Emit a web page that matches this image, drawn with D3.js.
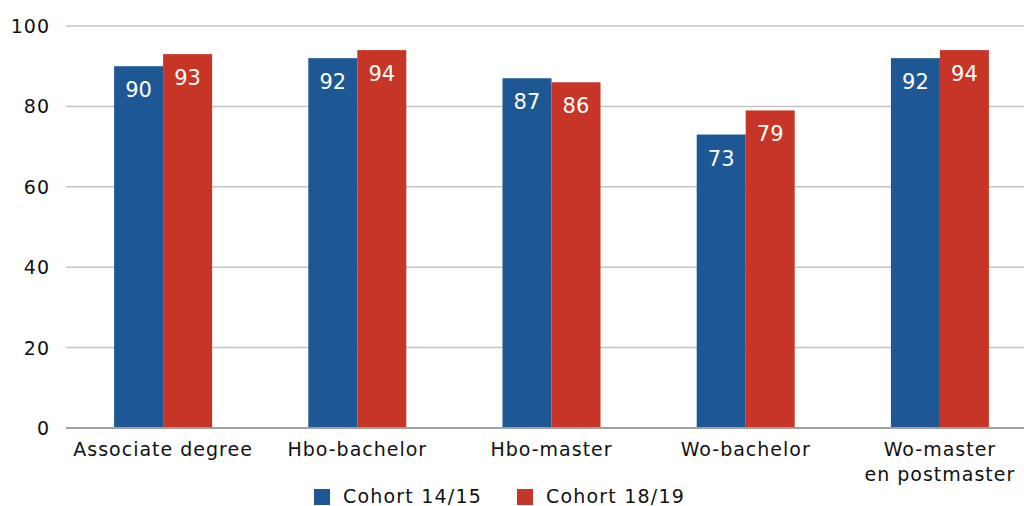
<!DOCTYPE html>
<html>
<head>
<meta charset="utf-8">
<style>
body { margin: 0; background: #fff; }
svg { font-family: "DejaVu Sans", Verdana, sans-serif; }
.axis text { font-size: 19px; fill: #111; letter-spacing: 1px; }
.grid line { stroke: #c4c4c4; stroke-width: 1.5; }
.label { fill: #fff; font-size: 21px; text-anchor: middle; }
.legend text { font-size: 19px; fill: #111; letter-spacing: 1.2px; }
</style>
</head>
<body>
<svg width="1024" height="506"></svg>
<script src="https://cdn.jsdelivr.net/npm/d3@7"></script>
<script>
// data
var categories = ["Associate degree", "Hbo-bachelor", "Hbo-master", "Wo-bachelor", "Wo-master\nen postmaster"];
var cohort1415 = [90, 92, 87, 73, 92];
var cohort1819 = [93, 94, 86, 79, 94];
var seriesNames = ["Cohort 14/15", "Cohort 18/19"];
var yTicks = [0, 20, 40, 60, 80, 100];

var colors = ["#1d5794", "#c73526"];

var svg = d3.select("svg");

var x = d3.scaleBand()
  .domain(categories)
  .range([66, 1037]);

var y = d3.scaleLinear()
  .domain([0, 100])
  .range([428, 26]);

// gridlines
svg.append("g")
  .attr("class", "grid")
  .selectAll("line")
  .data(yTicks.filter(function(d) { return d > 0; }))
  .enter().append("line")
  .attr("x1", 66)
  .attr("x2", 1024)
  .attr("y1", function(d) { return y(d); })
  .attr("y2", function(d) { return y(d); });

// y labels
svg.append("g")
  .attr("class", "axis")
  .selectAll("text")
  .data(yTicks)
  .enter().append("text")
  .attr("x", 50)
  .attr("y", function(d) { return y(d) + 7; })
  .attr("text-anchor", "end")
  .text(function(d) { return d; });

// bars
var rows = categories.map(function(c, i) { return {cat: c, vals: [cohort1415[i], cohort1819[i]]}; });

var groups = svg.selectAll(".grp")
  .data(rows)
  .enter().append("g")
  .attr("class", "grp")
  .attr("transform", function(d) { return "translate(" + x(d.cat) + ",0)"; });

var bw = 49;
var cx = x.bandwidth() / 2;

groups.selectAll("rect")
  .data(function(d) { return d.vals; })
  .enter().append("rect")
  .attr("x", function(d, i) { return cx - bw + i * bw; })
  .attr("width", bw)
  .attr("y", function(d) { return y(d); })
  .attr("height", function(d) { return y(0) - y(d); })
  .attr("fill", function(d, i) { return colors[i]; });

groups.selectAll(".label")
  .data(function(d) { return d.vals; })
  .enter().append("text")
  .attr("class", "label")
  .attr("x", function(d, i) { return cx - bw / 2 + i * bw; })
  .attr("y", function(d) { return y(d) + 31; })
  .text(function(d) { return d; });

// zero line
svg.append("line")
  .attr("x1", 66).attr("x2", 1024)
  .attr("y1", y(0)).attr("y2", y(0))
  .attr("stroke", "#a0a0a0")
  .attr("stroke-width", 2);

// category labels
var xl = svg.append("g").attr("class", "axis");
categories.forEach(function(c) {
  var t = xl.append("text")
    .attr("x", x(c) + cx)
    .attr("y", 456)
    .attr("text-anchor", "middle");
  c.split("\n").forEach(function(part, j) {
    t.append("tspan")
      .attr("x", x(c) + cx)
      .attr("dy", j === 0 ? 0 : 25)
      .text(part);
  });
});

// legend
var legendX = [314, 517];
var lg = svg.append("g").attr("class", "legend");
seriesNames.forEach(function(s, i) {
  lg.append("rect")
    .attr("x", legendX[i]).attr("y", 489)
    .attr("width", 16).attr("height", 16)
    .attr("fill", colors[i]);
  lg.append("text")
    .attr("x", legendX[i] + 29)
    .attr("y", 503)
    .text(s);
});
</script>
</body>
</html>
